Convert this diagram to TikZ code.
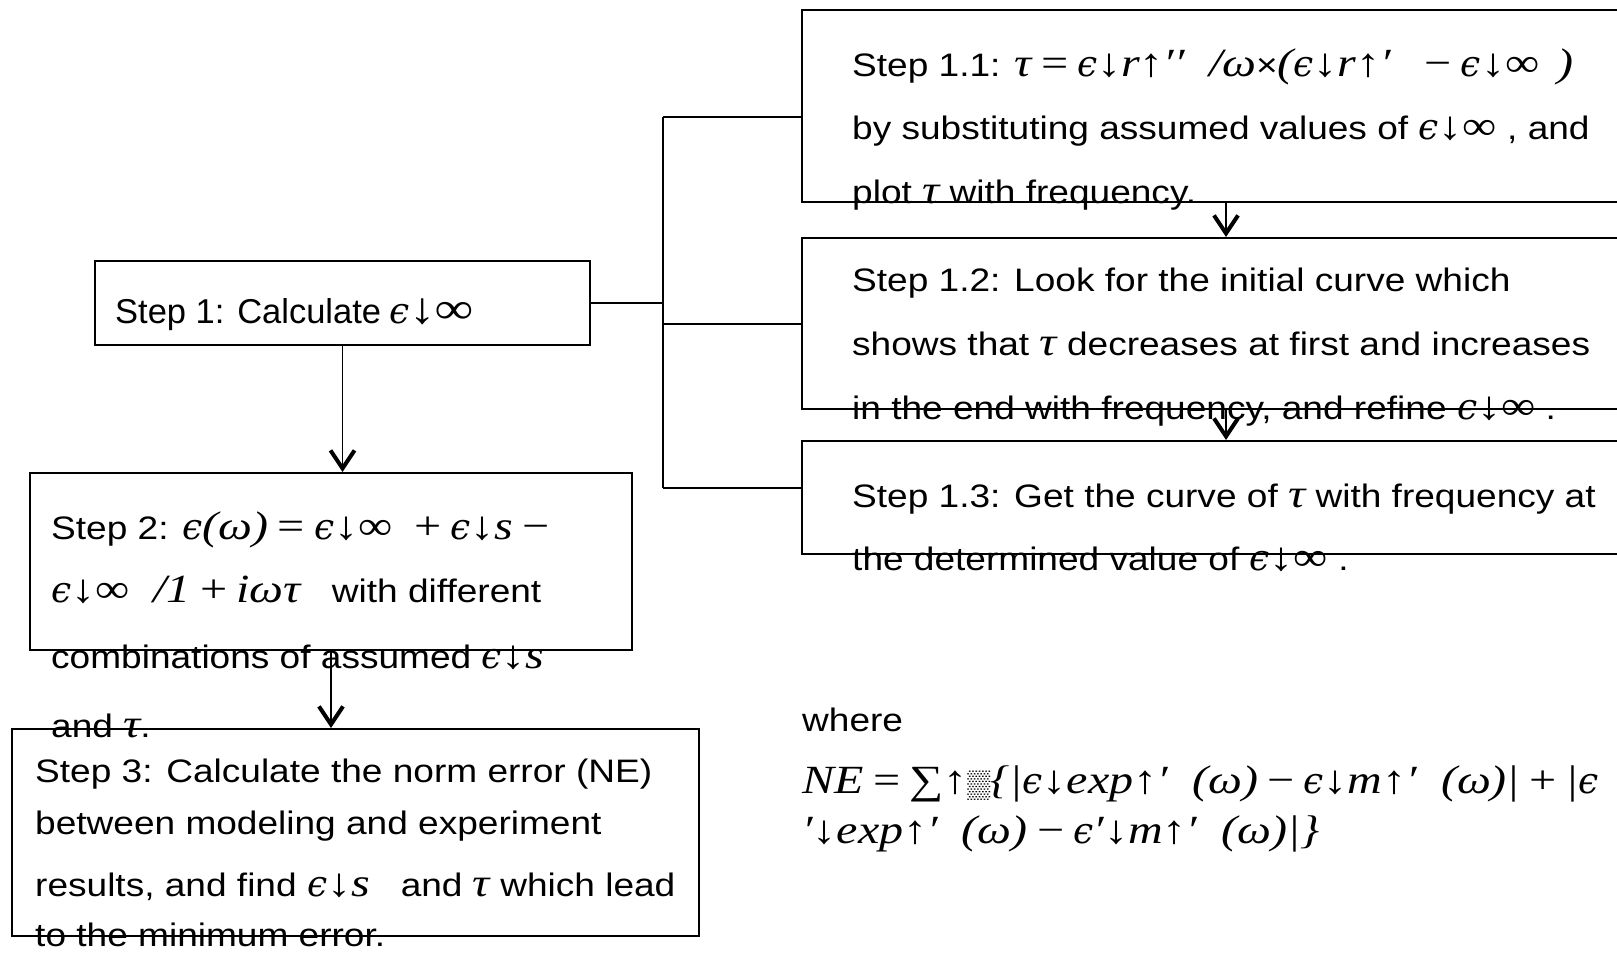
\documentclass[tikz,border=0pt]{standalone}
\usepackage{fontspec}
\setmainfont[FakeStretch=1.14]{Liberation Sans}
\newfontfamily\onefont{Liberation Sans}
\newfontfamily\mfont[FakeStretch=1.2]{Liberation Serif}
\newfontfamily\efont[FakeStretch=1.0]{DejaVu Serif}
\usetikzlibrary{arrows.meta}
\newcommand\mi[1]{{\mfont\itshape\fontsize{40}{46}\selectfont #1}}
\newcommand\dA{↓}
\newcommand\uA{↑}
\newcommand\infy{{\upshape ∞}}
\newcommand\shade{{\upshape\fontsize{27}{30}\selectfont ▒}}
\newcommand\eps{{\efont\itshape\fontsize{36}{40}\selectfont ϵ}}
\newcommand\oo[1]{\,#1\,}
\tikzset{
  box/.style={draw, line width=2pt, inner sep=0pt},
  txt/.style={inner sep=0pt, anchor=base west, font=\fontsize{32.5}{39}\selectfont},
  conn/.style={line width=1.8pt},
  arr/.style={line width=1.8pt, -{Straight Barb[length=18pt,width=24pt,line width=4pt]}}
}
\begin{document}
\begin{tikzpicture}[x=1pt,y=-1pt]
\useasboundingbox (0,0) rectangle (1617,953);
\clip (0,0) rectangle (1617,953);
% text
\node[txt] (t11a) at (852,76) {Step 1.1: \mi{τ\oo{=}\eps\dA r\uA′′\ \ /ω}×\mi{(\eps\dA r\uA′\ \ \oo{−}\eps\dA\infy\ \,)}};
\node[txt] (t11b) at (852,139) {by substituting assumed values of \mi{\eps\dA\infy} , and};
\node[txt] (t11c) at (852,203) {plot \mi{τ} with frequency.};
\node[txt] (t12a) at (852,291) {Step 1.2: Look for the initial curve which};
\node[txt] (t12b) at (852,355) {shows that \mi{τ} decreases at first and increases};
\node[txt] (t12c) at (852,419) {in the end with frequency, and refine \mi{\eps\dA\infy} .};
\node[txt] (t13a) at (852,507) {Step 1.3: Get the curve of \mi{τ} with frequency at};
\node[txt] (t13b) at (852,570) {the determined value of \mi{\eps\dA\infy} .};
\node[txt, font=\onefont\fontsize{34.5}{40}\selectfont] (t1) at (115,323) {Step 1: Calculate\hspace{8pt}{\mfont\itshape\fontsize{44}{48}\selectfont\eps\dA∞}};
\node[txt] (t2a) at (51,539) {Step 2: \mi{\eps(ω)\oo{=}\eps\dA\infy\ \oo{+}\eps\dA s\oo{−}}};
\node[txt] (t2b) at (51,602) {\mi{\eps\dA\infy\ \ /1\oo{+}iωτ}\ \ \ with different};
\node[txt] (t2c) at (51,668) {combinations of assumed \mi{\eps\dA s}};
\node[txt] (t2d) at (51,737) {and \mi{τ}.};
\node[txt] (t3a) at (35,782) {Step 3: Calculate the norm error (NE)};
\node[txt] (t3b) at (35,834) {between modeling and experiment};
\node[txt] (t3c) at (35,896) {results, and find \mi{\eps\dA s}\ \ \ and \mi{τ} which lead};
\node[txt] (t3d) at (35,946) {to the minimum error.};
\node[txt] (wh) at (802,731) {where};
\node[txt] (ne1) at (802,793) {\mi{NE\oo{=}∑\uA\shade\{|\eps\dA exp\uA′\ \ (ω)\oo{−}\eps\dA m\uA′\ \ (ω)|\oo{+}|\eps}};
\node[txt] (ne2) at (802,843) {\mi{′\dA exp\uA′\ \ (ω)\oo{−}\eps′\dA m\uA′\ \ (ω)|\}}};
% boxes
\node[box, minimum width=848pt, minimum height=192pt] (s11) at (1226,106) {};
\node[box, minimum width=848pt, minimum height=171pt] (s12) at (1226,323.5) {};
\node[box, minimum width=848pt, minimum height=113pt] (s13) at (1226,497.5) {};
\node[box, minimum width=495pt, minimum height=84pt] (s1) at (342.5,303) {};
\node[box, minimum width=602pt, minimum height=177pt] (s2) at (331,561.5) {};
\node[box, minimum width=687pt, minimum height=207pt] (s3) at (355.5,832.5) {};
% connectors
\coordinate (br) at (663,303);
\coordinate (b11) at (663,117);
\coordinate (b12) at (663,324);
\coordinate (b13) at (663,488);
\draw[conn] (s1.east) -- (br);
\draw[conn] (b11) -- (b13);
\draw[conn] (b11) -- (b11 -| s11.west);
\draw[conn] (b12) -- (b12 -| s12.west);
\draw[conn] (b13) -- (b13 -| s13.west);
\draw[arr] (s11.south) -- (s12.north);
\draw[arr] (s12.south) -- (s13.north);
\draw[arr] (s1.south) -- (s1.south |- s2.north);
\draw[arr] (s2.south) -- (s2.south |- s3.north);
\end{tikzpicture}
\end{document}
